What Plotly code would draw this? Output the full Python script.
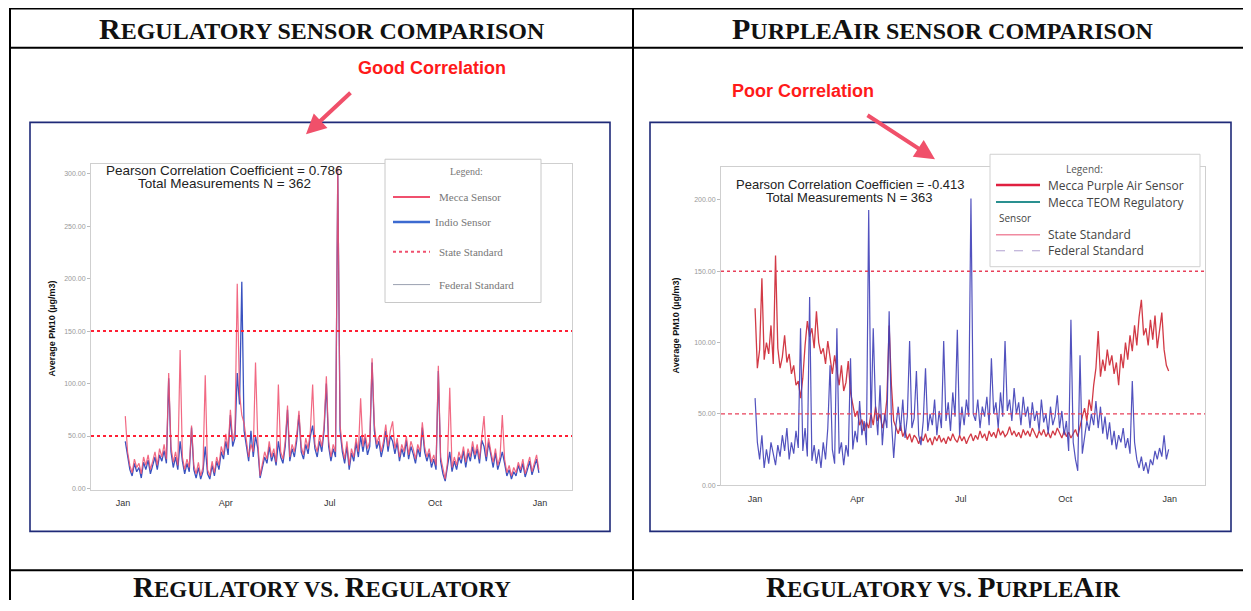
import plotly.graph_objects as go
import pandas as pd

# ---------------- DATA ----------------
# Left panel: regulatory vs regulatory (PM10, 2-day samples from Jan 3)
mecca_reg = [69, 35, 22, 15, 28, 20, 24, 14, 30, 22, 32, 18, 26, 35, 22, 38, 30, 42, 28, 110,
             40, 25, 35, 22, 132, 30, 18, 28, 20, 60, 22, 14, 25, 12, 20, 108, 18, 12, 26, 15,
             30, 22, 40, 32, 52, 38, 75, 45, 55, 195, 90, 70, 62, 45, 30, 42, 35, 120, 45, 12,
             25, 35, 28, 45, 30, 38, 25, 99, 35, 28, 45, 79, 30, 42, 35, 50, 74, 40, 32, 48,
             38, 55, 99, 42, 35, 50, 40, 60, 107, 45, 30, 42, 35, 307, 60, 40, 28, 45, 22, 38,
             30, 48, 35, 86, 40, 52, 38, 45, 124, 61, 42, 50, 35, 45, 61, 40, 55, 64, 38, 48,
             30, 42, 35, 50, 32, 45, 38, 28, 42, 35, 63, 40, 30, 38, 25, 32, 22, 117, 30, 18,
             9, 25, 96, 20, 30, 22, 35, 28, 40, 25, 38, 30, 45, 32, 42, 28, 50, 69, 30, 48,
             35, 25, 38, 22, 30, 70, 28, 15, 22, 12, 20, 15, 25, 18, 28, 14, 22, 30, 16, 25,
             32, 18]
indio_reg = [45, 30, 18, 12, 24, 16, 20, 10, 25, 18, 27, 14, 22, 30, 18, 32, 26, 36, 24, 105,
             35, 20, 30, 18, 45, 26, 14, 24, 16, 58, 18, 10, 20, 9, 16, 40, 14, 9, 22, 12,
             26, 18, 35, 28, 45, 32, 70, 40, 48, 110, 80, 197, 55, 40, 26, 55, 30, 50, 38, 10,
             22, 30, 24, 40, 26, 34, 22, 45, 30, 24, 40, 75, 26, 38, 30, 45, 70, 35, 28, 42,
             33, 50, 60, 38, 30, 45, 35, 55, 100, 40, 26, 38, 30, 300, 55, 35, 24, 40, 18, 34,
             26, 44, 30, 50, 35, 48, 32, 40, 120, 55, 38, 45, 30, 40, 55, 35, 50, 45, 33, 44,
             26, 38, 30, 46, 28, 40, 33, 24, 38, 30, 58, 35, 26, 34, 20, 28, 18, 112, 26, 14,
             7, 20, 35, 16, 26, 18, 30, 24, 36, 20, 34, 26, 40, 28, 38, 24, 46, 40, 26, 44,
             30, 20, 34, 18, 26, 35, 24, 12, 18, 9, 16, 12, 22, 15, 24, 11, 18, 26, 13, 22,
             28, 15]

# Right panel: PurpleAir vs regulatory TEOM (2-day samples from Jan 1)
mecca_purple = [124, 82, 95, 145, 88, 100, 92, 112, 85, 161, 96, 82, 90, 105, 86, 92, 78, 84, 70, 73,
                61, 75, 98, 115, 104, 110, 96, 122, 100, 92, 96, 85, 101, 88, 78, 91, 80, 70, 84, 66,
                72, 87, 65, 56, 48, 52, 42, 46, 38, 44, 40, 50, 42, 55, 45, 50, 40, 46, 60, 112,
                70, 45, 40, 36, 42, 34, 38, 32, 36, 30, 35, 33, 29, 34, 31, 36, 30, 33, 28, 34,
                31, 35, 30, 33, 29, 34, 31, 36, 32, 30, 35, 31, 34, 29, 33, 36, 31, 35, 32, 38,
                33, 36, 31, 38, 34, 37, 33, 40, 35, 38, 34, 36, 41, 35, 38, 34, 37, 33, 39, 35,
                38, 34, 40, 36, 33, 38, 35, 39, 34, 37, 33, 38, 35, 40, 36, 33, 38, 34, 37, 33,
                36, 39, 34, 42, 48, 54, 45, 60, 52, 70, 82, 108, 76, 88, 80, 95, 84, 91, 78, 86,
                70, 92, 82, 100, 88, 105, 94, 112, 98, 118, 130, 105, 110, 98, 116, 102, 119, 96, 108, 121,
                95, 84, 80]
mecca_teom = [61, 30, 18, 35, 12, 25, 15, 30, 22, 14, 28, 20, 35, 24, 40, 18, 30, 22, 38, 26,
              110, 24, 40, 20, 132, 17, 28, 15, 25, 12, 30, 18, 40, 84, 25, 15, 110, 22, 30, 14,
              28, 20, 89, 25, 38, 30, 59, 35, 45, 28, 193, 40, 110, 55, 35, 70, 28, 50, 40, 122,
              45, 19, 42, 55, 38, 60, 33, 48, 101, 40, 47, 80, 35, 28, 45, 82, 38, 50, 42, 60,
              35, 52, 40, 101, 45, 58, 38, 65, 48, 109, 35, 55, 42, 60, 48, 201, 50, 45, 60, 40,
              55, 48, 62, 42, 89, 50, 58, 40, 65, 48, 101, 52, 60, 45, 68, 50, 58, 42, 62, 48,
              55, 40, 58, 45, 52, 38, 60, 44, 50, 36, 55, 42, 48, 63, 40, 52, 35, 45, 24, 116,
              30, 18, 10, 91, 22, 35, 45, 38, 50, 42, 59, 40, 55, 36, 48, 32, 44, 28, 38, 25,
              35, 30, 40, 26, 33, 22, 73, 30, 18, 12, 20, 10, 16, 8, 18, 14, 24, 18, 26, 20,
              35, 18, 25]

standards = [50, 150]
month_ticks = ["2018-01-01", "2018-04-01", "2018-07-01", "2018-10-01", "2019-01-01"]
month_labels = ["Jan", "Apr", "Jul", "Oct", "Jan"]

dates_left = pd.date_range("2018-01-03", periods=len(mecca_reg), freq="2D")
dates_right = pd.date_range("2018-01-01", periods=len(mecca_purple), freq="2D")

# page body has an 8px margin: figure is placed at (8,8)
OFF = 8
W, H = 1235, 595
def X(p): return (p - OFF) / W
def Y(p): return 1 - (p - OFF) / H

fig = go.Figure()
fig.add_trace(go.Scatter(x=dates_left, y=indio_reg, mode="lines", line=dict(color="#3a52c0", width=1.3),
                         xaxis="x", yaxis="y", showlegend=False))
fig.add_trace(go.Scatter(x=dates_left, y=mecca_reg, mode="lines", line=dict(color="#f0506e", width=1.2),
                         opacity=0.85, xaxis="x", yaxis="y", showlegend=False))
fig.add_trace(go.Scatter(x=dates_right, y=mecca_purple, mode="lines", line=dict(color="#d23a46", width=1.3),
                         xaxis="x2", yaxis="y2", showlegend=False))
fig.add_trace(go.Scatter(x=dates_right, y=mecca_teom, mode="lines", line=dict(color="#4040b8", width=1.2),
                         opacity=0.9, xaxis="x2", yaxis="y2", showlegend=False))

axis_common = dict(showline=True, linecolor="#cfcfcf", linewidth=1, mirror=True, showgrid=False, zeroline=False)
xtick = dict(ticks="outside", ticklen=5, tickcolor="rgba(0,0,0,0)",
             tickfont=dict(family="Liberation Sans", size=9, color="#333"))
ytick = dict(tickformat=".2f", ticks="outside", ticklen=3, tickcolor="#bbb",
             tickfont=dict(family="Liberation Sans", size=7, color="#999"))
fig.update_layout(
    width=W, height=H, margin=dict(l=0, r=0, t=0, b=0), autosize=False,
    paper_bgcolor="white", plot_bgcolor="white",
    xaxis=dict(domain=[X(91), X(572)], anchor="y", range=["2017-12-04", "2019-01-29"],
               tickvals=month_ticks, ticktext=month_labels, **xtick, **axis_common),
    yaxis=dict(domain=[Y(492), Y(165)], anchor="x", range=[-1, 309],
               tickvals=[0, 50, 100, 150, 200, 250, 300], **ytick, **axis_common),
    xaxis2=dict(domain=[X(721), X(1205)], anchor="y2", range=["2017-12-02", "2019-02-01"],
                tickvals=month_ticks, ticktext=month_labels, **xtick, **axis_common),
    yaxis2=dict(domain=[Y(487.5), Y(168)], anchor="x2", range=[0, 223],
                tickvals=[0, 50, 100, 150, 200], **ytick, **axis_common),
)

shapes = []
for s in standards:
    shapes.append(dict(type="line", xref="x domain", yref="y", x0=0, x1=1, y0=s, y1=s,
                       line=dict(color="#ff2035", width=2, dash="dot")))
shapes.append(dict(type="line", xref="x2 domain", yref="y2", x0=0, x1=1, y0=standards[1], y1=standards[1],
                   line=dict(color="#e8405a", width=1.4, dash="dot")))
shapes.append(dict(type="line", xref="x2 domain", yref="y2", x0=0, x1=1, y0=standards[0], y1=standards[0],
                   line=dict(color="#e8405a", width=1.2, dash="4px,3px")))

def pline(x0, y0, x1, y1, color="black", width=1.5, dash="solid"):
    shapes.append(dict(type="line", xref="paper", yref="paper", x0=X(x0), y0=Y(y0), x1=X(x1), y1=Y(y1),
                       line=dict(color=color, width=width, dash=dash), layer="above"))

def prect(x0, y0, x1, y1, color, width=1.5, fill="rgba(0,0,0,0)"):
    shapes.append(dict(type="rect", xref="paper", yref="paper", x0=X(x0), y0=Y(y0), x1=X(x1), y1=Y(y1),
                       line=dict(color=color, width=width), fillcolor=fill, layer="above"))

# table lines
pline(10, 8.5, 1243, 8.5, width=2)
pline(10, 48, 1243, 48, width=2)
pline(10, 573, 1243, 573, width=2)
pline(10, 8, 10, 603, width=2)
pline(633, 8, 633, 603, width=2)
# chart frames
prect(30, 123, 610, 534, "#1f2a78", 1.6)
prect(650, 123, 1231, 534, "#1f2a78", 1.6)
# legends
prect(385, 160, 541, 304, "#c8c8c8", 1, "white")
prect(990, 155, 1200, 268, "#d0d0d0", 1, "white")
pline(393, 198, 430, 198, "#f0506e", 2)
pline(393, 223, 430, 223, "#3c6ad0", 2.5)
pline(393, 253, 430, 253, "#f0506e", 2, "dot")
pline(393, 286, 430, 286, "#9aa0b0", 1)
pline(996, 186, 1040, 186, "#e02040", 2.5)
pline(996, 203, 1040, 203, "#2a9090", 2)
pline(996, 236, 1040, 236, "#f08aa0", 1.5)
pline(996, 252, 1040, 252, "#b0a0d0", 1, "dash")
fig.update_layout(shapes=shapes)

ann = []
def txt(x, y, s, size, color="#222", family="Liberation Sans", xanchor="center", **kw):
    ann.append(dict(xref="paper", yref="paper", x=X(x), y=Y(y), text=s, showarrow=False,
                    xanchor=xanchor, yanchor="middle",
                    font=dict(family=family, size=size, color=color, **kw)))

def caps(s, big_size):
    # emulate small caps: large capitals, smaller uppercase for lowercase letters
    out = []
    for w in s.split(" "):
        parts, buf = [], ""
        for ch in w:
            if ch.isupper():
                if buf:
                    parts.append(buf.upper()); buf = ""
                parts.append('<span style="font-size:%dpx">%s</span>' % (big_size, ch))
            else:
                buf += ch
        if buf:
            parts.append(buf.upper())
        out.append("".join(parts))
    return " ".join(out)

hdr = dict(family="Liberation Serif", weight="bold")
txt(322, 29, caps("Regulatory sensor comparison", 30), 24, "#111", **hdr)
txt(943, 29, caps("PurpleAir sensor comparison", 30), 24, "#111", **hdr)
txt(322, 590, caps("Regulatory vs. Regulatory", 29), 23, "#111", **hdr)
txt(943, 590, caps("Regulatory vs. PurpleAir", 29), 23, "#111", **hdr)

txt(432, 68, "Good Correlation", 18, "#ff1a1a", weight="bold")
txt(803, 91, "Poor Correlation", 18, "#ff1a1a", weight="bold")

txt(224, 171, "Pearson Correlation Coefficient = 0.786", 13.5, "#222")
txt(224, 184, "Total Measurements N = 362", 13.5, "#222")
txt(850, 185, "Pearson Correlation Coefficien = -0.413", 13, "#222")
txt(850, 198, "Total Measurements N = 363", 13, "#222")

# left legend text
txt(467, 172, "Legend:", 10, "#777", "Liberation Serif")
txt(437, 198, "Mecca Sensor", 11, "#777", "Liberation Serif", xanchor="left")
txt(433, 223, "Indio Sensor", 11, "#777", "Liberation Serif", xanchor="left")
txt(437, 253, "State Standard", 11, "#777", "Liberation Serif", xanchor="left")
txt(437, 286, "Federal Standard", 11, "#777", "Liberation Serif", xanchor="left")
# right legend text
txt(1084, 170, "Legend:", 10, "#555", "Open Sans")
txt(1046, 186, "Mecca Purple Air Sensor", 12, "#444", "Open Sans", xanchor="left")
txt(1046, 203, "Mecca TEOM Regulatory", 12, "#444", "Open Sans", xanchor="left")
txt(997, 219, "Sensor", 10, "#444", "Open Sans", xanchor="left")
txt(1046, 236, "State Standard", 12, "#444", "Open Sans", xanchor="left")
txt(1046, 252, "Federal Standard", 12, "#444", "Open Sans", xanchor="left")

for xx, yy in [(45, 330), (676, 327)]:
    ann.append(dict(xref="paper", yref="paper", x=X(xx), y=Y(yy), text="Average PM10 (µg/m3)", showarrow=False,
                    textangle=-90, font=dict(family="Liberation Sans", size=9, color="#111", weight="bold")))

ann.append(dict(xref="paper", yref="paper", x=X(306), y=Y(135), ax=46, ay=-43, text="", showarrow=True,
                arrowhead=2, arrowsize=1, arrowwidth=4, arrowcolor="#f0506a", standoff=0))
ann.append(dict(xref="paper", yref="paper", x=X(935), y=Y(160), ax=-69, ay=-45, text="", showarrow=True,
                arrowhead=2, arrowsize=1, arrowwidth=4, arrowcolor="#f0506a", standoff=0))
fig.update_layout(annotations=ann)

fig.write_html("out.html")
